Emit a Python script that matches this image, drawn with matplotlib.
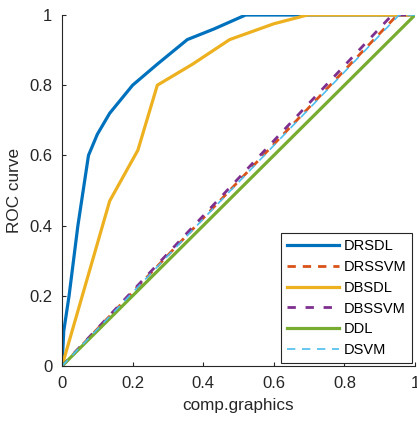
import numpy as np
import matplotlib
matplotlib.use('Agg')
import matplotlib.pyplot as plt

plt.rcParams['font.family'] = ['Liberation Sans', 'DejaVu Sans']

# Curvas ROC
drsdl_x = [0, 0.005, 0.02, 0.045, 0.06, 0.075, 0.10, 0.135, 0.20, 0.27, 0.355, 0.43, 0.52, 1.0]
drsdl_y = [0, 0.10, 0.20, 0.40, 0.50, 0.60, 0.66, 0.72, 0.80, 0.86, 0.93, 0.96, 1.0, 1.0]

drssvm_x = [0, 0.95, 1.0]
drssvm_y = [0, 1.0, 1.0]

dbsdl_x = [0, 0.135, 0.215, 0.27, 0.37, 0.475, 0.60, 0.695, 1.0]
dbsdl_y = [0, 0.47, 0.615, 0.80, 0.86, 0.93, 0.975, 1.0, 1.0]

dbssvm_x = [0, 0.935, 1.0]
dbssvm_y = [0, 1.0, 1.0]

ddl_x = [0, 1.0]
ddl_y = [0, 1.0]

dsvm_x = [0, 0.955, 1.0]
dsvm_y = [0, 1.0, 1.0]

ticks = [0, 0.2, 0.4, 0.6, 0.8, 1]
tick_labels = ['0', '0.2', '0.4', '0.6', '0.8', '1']

cinza = (0.15, 0.15, 0.15)

fig = plt.figure(figsize=(4.17, 4.24), dpi=100)
ax = fig.add_axes([0.1487, 0.1368, 0.8465, 0.8278])

ax.plot(drsdl_x, drsdl_y, color=(0, 0.447, 0.741), lw=2.3, label='DRSDL')
ax.plot(drssvm_x, drssvm_y, color=(0.85, 0.325, 0.098), lw=2.0, ls=(0, (3, 2.5)), label='DRSSVM')
ax.plot(dbsdl_x, dbsdl_y, color=(0.929, 0.694, 0.125), lw=2.3, label='DBSDL')
ax.plot(dbssvm_x, dbssvm_y, color=(0.494, 0.184, 0.556), lw=2.0, ls=(0, (3, 3.5)), label='DBSSVM')
ax.plot(ddl_x, ddl_y, color=(0.466, 0.674, 0.188), lw=2.3, label='DDL')
ax.plot(dsvm_x, dsvm_y, color=(0.301, 0.745, 0.933), lw=1.2, ls=(0, (5, 4)), label='DSVM')

ax.set_xlim(0, 1)
ax.set_ylim(0, 1)
ax.set_xticks(ticks)
ax.set_xticklabels(tick_labels)
ax.set_yticks(ticks)
ax.set_yticklabels(tick_labels)
ax.tick_params(direction='in', length=3, width=0.8, colors=cinza, labelsize=12, pad=7)
for lado in ['top', 'right']:
    ax.spines[lado].set_visible(False)
for lado in ['left', 'bottom']:
    ax.spines[lado].set_color(cinza)
    ax.spines[lado].set_linewidth(0.8)

ax.set_xlabel('comp.graphics', fontsize=12.3, color=cinza, labelpad=5)
ax.set_ylabel('ROC curve', fontsize=12.3, color=cinza, labelpad=5)

leg = ax.legend(loc='lower right', fontsize=10.5, fancybox=False, framealpha=1,
                edgecolor=cinza, handlelength=3.6, borderaxespad=0.2,
                labelspacing=0.47, handletextpad=0.3, borderpad=0.4)
leg.get_frame().set_linewidth(0.8)

plt.savefig('out.png', dpi=100)
plt.close()
